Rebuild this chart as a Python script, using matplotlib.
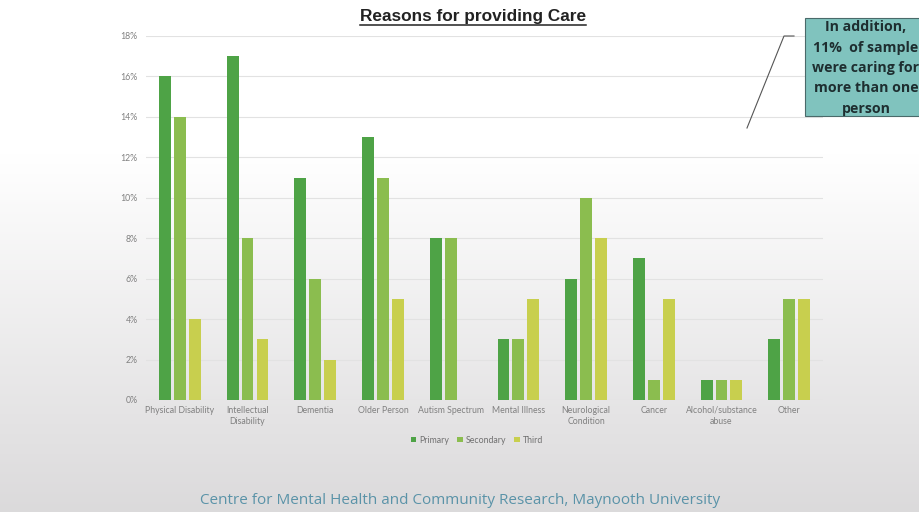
import numpy as np
import matplotlib
matplotlib.use("Agg")
import matplotlib.pyplot as plt
from matplotlib.lines import Line2D
from matplotlib.patches import Rectangle

categories = ["Physical Disability", "Intellectual\nDisability", "Dementia", "Older Person",
              "Autism Spectrum", "Mental Illness", "Neurological\nCondition", "Cancer",
              "Alcohol/substance\nabuse", "Other"]
primary = [16, 17, 11, 13, 8, 3, 6, 7, 1, 3]
secondary = [14, 8, 6, 11, 8, 3, 10, 1, 1, 5]
third = [4, 3, 2, 5, 0, 5, 8, 5, 1, 5]
series_names = ["Primary", "Secondary", "Third"]
series_colors = ["#4ea346", "#8bbd4f", "#c8cf4e"]
yticks = [0, 2, 4, 6, 8, 10, 12, 14, 16, 18]

fig = plt.figure(figsize=(9.2, 5.12), dpi=100)

# slide background: white at the top fading to light grey
bg = fig.add_axes([0, 0, 1, 1], zorder=-10)
grad = np.linspace(0, 1, 256).reshape(-1, 1)
grad = np.clip((grad - 0.3) / 0.7, 0, 1)
top = np.array([1.0, 1.0, 1.0])
bottom = np.array([0.86, 0.855, 0.86])
img = top + (bottom - top) * grad[..., None]
bg.imshow(img, aspect="auto", extent=[0, 1, 0, 1], origin="upper")
bg.axis("off")

ax = fig.add_axes([0.1587, 0.2188, 0.7359, 0.7109])
ax.patch.set_alpha(0)

x = np.arange(len(categories))
w = 0.175
step = 0.22
for i, (vals, name, col) in enumerate(zip([primary, secondary, third], series_names, series_colors)):
    ax.bar(x + (i - 1) * step, vals, width=w, color=col, label=name, zorder=3)

ax.set_xlim(-0.5, len(categories) - 0.5)
ax.set_ylim(0, 18)
ax.set_yticks(yticks)
ax.set_yticklabels([f"{v}%" for v in yticks])
ax.set_xticks(x)
ax.set_xticklabels(categories)
ax.tick_params(axis="both", length=0, labelsize=6.3, labelcolor="#808080")
for lab in ax.get_xticklabels() + ax.get_yticklabels():
    lab.set_family("Lato")
for lab in ax.get_xticklabels():
    lab.set_linespacing(1.35)
ax.tick_params(axis="y", pad=6)
ax.tick_params(axis="x", pad=4)
ax.yaxis.grid(True, color="#e2e2e2", linewidth=0.8, zorder=0)
for s in ax.spines.values():
    s.set_visible(False)

leg = ax.legend(loc="center", bbox_to_anchor=(0.489, -0.11), ncol=3, frameon=False,
                prop={"family": "Lato", "size": 6.3}, labelcolor="#707070",
                handlelength=0.6, handleheight=0.6, handletextpad=0.4, columnspacing=0.9)

# underlined title
title = fig.text(0.514, 0.967, "Reasons for providing Care", ha="center", va="center",
                 fontsize=12.4, fontweight="bold", color="#222222", family="Liberation Sans")
fig.canvas.draw()
bb = title.get_window_extent().transformed(fig.transFigure.inverted())
fig.add_artist(Line2D([bb.x0, bb.x1], [bb.y0 - 0.002, bb.y0 - 0.002], transform=fig.transFigure,
                      color="#222222", linewidth=1.1))

# callout box
fig.add_artist(Rectangle((805 / 920, 1 - 116 / 512), 130 / 920, 98 / 512, transform=fig.transFigure,
                         facecolor="#80c3be", edgecolor="#4a6a6a", linewidth=0.8, clip_on=False))
fig.text(866 / 920, 1 - 68 / 512, "In addition,\n11%  of sample\nwere caring for\nmore than one\nperson",
         ha="center", va="center", fontsize=10.2, fontweight="bold", color="#1e2e30",
         family="Open Sans", linespacing=1.58)
fig.add_artist(Line2D([747 / 920, 784 / 920, 794 / 920], [1 - 128 / 512, 1 - 36 / 512, 1 - 36 / 512],
                      transform=fig.transFigure, color="#555555", linewidth=0.8))

fig.text(460 / 920, 1 - 500 / 512, "Centre for Mental Health and Community Research, Maynooth University",
         ha="center", va="center", fontsize=11, color="#5a93a8", family="Open Sans")

fig.savefig("out.png", dpi=100)
